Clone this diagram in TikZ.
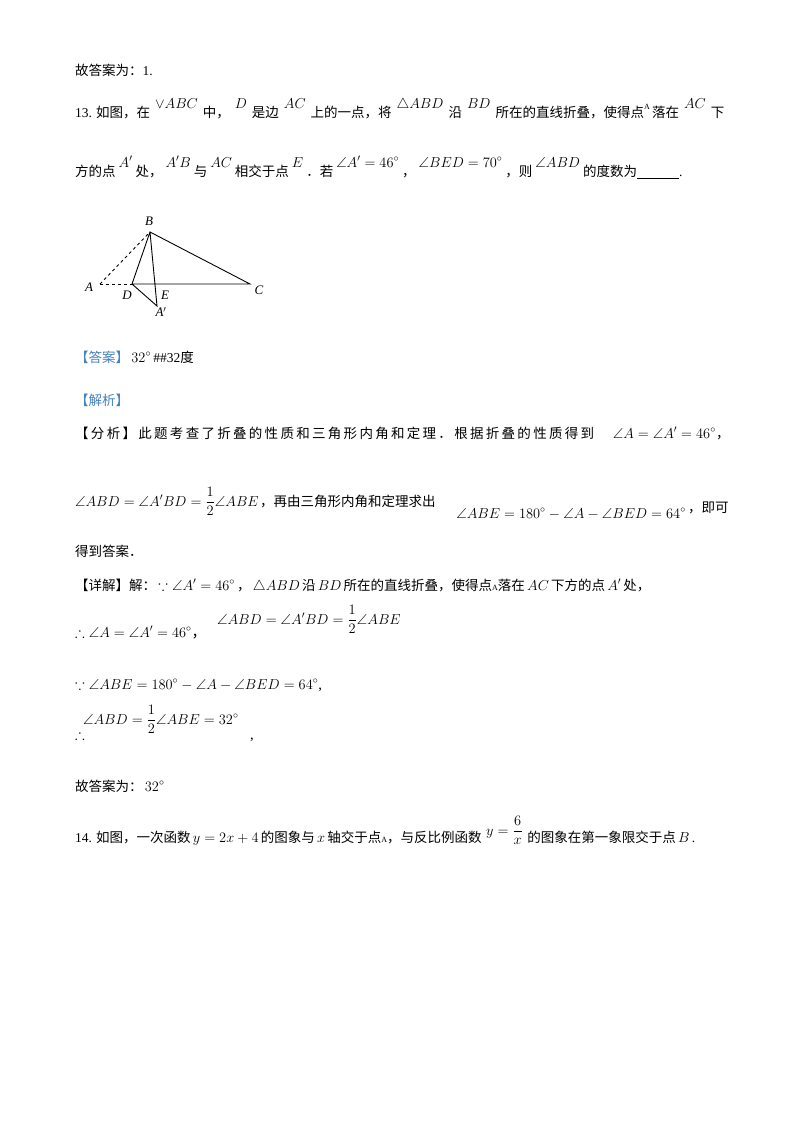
\documentclass[tikz,border=0pt]{standalone}
\usepackage{amsmath,amssymb}
\usepackage{fontspec}
\setmainfont{Liberation Serif}
\newfontfamily\cjk{Noto Sans CJK SC}
\newfontfamily\cjkw{Noto Sans CJK SC}[LetterSpace=17]
\newcommand{\zh}[1]{{\cjk #1}}
\newcommand{\R}[1]{\hspace{5pt}\raisebox{9pt}{\fontsize{14.5}{16}\selectfont$#1$}\hspace{5pt}}
\newcommand{\RR}[1]{\hspace{3pt}\raisebox{9pt}{\fontsize{14.5}{16}\selectfont$#1$}\hspace{3pt}}
\newcommand{\M}[1]{\,{\fontsize{14.5}{16}\selectfont$#1$}\,}
\definecolor{ansblue}{RGB}{70,130,190}
\begin{document}
\begin{tikzpicture}[x=1pt,y=-1pt,
  t/.style={anchor=base west,inner sep=0pt,font=\fontsize{13.5}{15}\selectfont\cjk},
  m/.style={anchor=base west,inner sep=0pt,font=\fontsize{14.5}{16}\selectfont},
  lab/.style={inner sep=0pt,font=\fontsize{13}{14}\selectfont\itshape},
  seg/.style={line width=0.9pt}]
\useasboundingbox (0,0) rectangle (800,1132);
\fill[white] (0,0) rectangle (800,1132);
\node[t] (l1) at (75,75) {故答案为：{\rmfamily 1.}};
\node[t] (l2) at (75,117) {{\rmfamily 13.} 如图，在\R{\vee ABC}中，\R{D}是边\R{AC}上的一点，将\R{\triangle ABD}沿\R{BD}所在的直线折叠，使得点\raisebox{8pt}{\rmfamily\footnotesize A}\,落在\R{AC}下};
\node[t] (l3) at (75,176) {方的点\RR{A'}处，\RR{A'B}与\RR{AC}相交于点\RR{E}．若\RR{\angle A'=46^\circ}，\RR{\angle BED=70^\circ}，则\RR{\angle ABD}的度数为\underline{\hspace{42pt}}{\rmfamily .}};
% figure
\coordinate (A) at (100,284);
\coordinate (B) at (150,232);
\coordinate (D) at (132,284);
\coordinate (E) at (155,284);
\coordinate (C) at (250,284);
\coordinate (Ap) at (157,306);
\draw[seg,dashed] (A) -- (B);
\draw[seg,dashed] (A) -- (D);
\draw[seg] (D) -- (C) -- (B) -- (D) -- (Ap) -- (B);
\node[lab] (lA) at (89,287) {A};
\node[lab] (lB) at (149,221) {B};
\node[lab] (lC) at (259,290) {C};
\node[lab] (lD) at (127,295) {D};
\node[lab] (lE) at (165,295) {E};
\node[lab] (lAp) at (161,312) {A$'$};
% answer
\node[t] (a1) at (75,362) {\textcolor{ansblue}{【答案】}\M{32^\circ}{\rmfamily\#\#32}度};
\node[t,ansblue] (a3) at (75,405) {【解析】};
\node[t,font=\fontsize{13.5}{15}\selectfont\cjkw] (a4) at (75,438) {【分析】此题考查了折叠的性质和三角形内角和定理．根据折叠的性质得到};
\node[m,anchor=base east] (a5) at (716,438) {$\angle A=\angle A'=46^\circ$};
\node[t] (a6) at (a5.base east) {，};
\node[m] (a7) at (75,506) {$\angle ABD=\angle A'BD=\dfrac{1}{2}\angle ABE$};
\node[t] (a8) at (260,506) {，再由三角形内角和定理求出};
\node[m,anchor=base east] (a9) at (686,518) {$\angle ABE=180^\circ-\angle A-\angle BED=64^\circ$};
\node[t] (a10) at (688,512) {，即可};
\node[t] (a11) at (75,556) {得到答案．};
\node[t] (b1) at (75,590) {【详解】解：\M{\because\angle A'=46^\circ}，\M{\triangle ABD}沿\M{BD}所在的直线折叠，使得点{\rmfamily\footnotesize A}落在\M{AC}下方的点\M{A'}处，};
\node[m] (b2) at (75,637) {$\therefore\angle A=\angle A'=46^\circ$\zh{，}};
\node[m] (b3) at (217,624) {$\angle ABD=\angle A'BD=\dfrac{1}{2}\angle ABE$};
\node[m] (b4) at (75,689) {$\because\angle ABE=180^\circ-\angle A-\angle BED=64^\circ$,};
\node[m] (b5) at (75,739) {$\therefore$};
\node[m] (b6) at (83,724) {$\angle ABD=\dfrac{1}{2}\angle ABE=32^\circ$};
\node[m] (b7) at (250,739) {,};
\node[t] (c1) at (75,791) {故答案为：\M{32^\circ}};
\node[t] (c2) at (75,842) {{\rmfamily 14.} 如图，一次函数\M{y=2x+4}的图象与\M{x}轴交于点{\rmfamily\footnotesize A}，与反比例函数};
\node[m] (c3) at ([xshift=4pt]c2.base east) [yshift=7pt] {$y=\dfrac{6}{x}$};
\node[t] (c4) at ([xshift=4pt,yshift=-7pt]c3.base east) {的图象在第一象限交于点\M{B}{\rmfamily .}};
\end{tikzpicture}
\end{document}
